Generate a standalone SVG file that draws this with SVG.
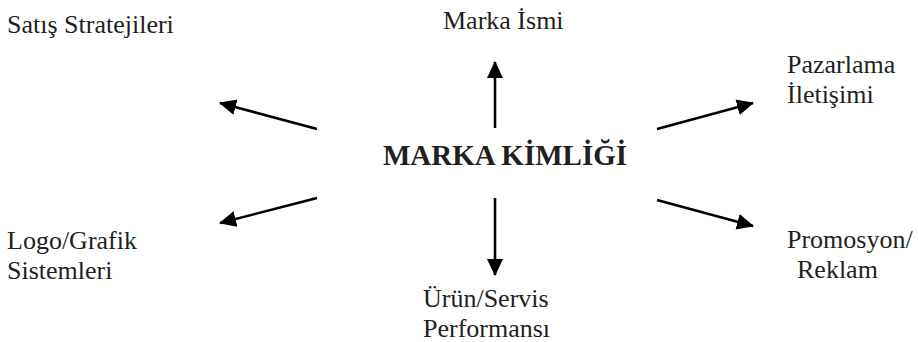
<svg xmlns="http://www.w3.org/2000/svg" width="918" height="342" viewBox="0 0 918 342">
<style>
  text { font-family: "Liberation Serif", "Times New Roman", serif; font-size: 26px; fill: #231f20; }
  .title { font-weight: bold; font-size: 29px; text-anchor: middle; }
  .conn line { stroke: #000; stroke-width: 2.6; marker-end: url(#arrow); }
</style>
<defs>
  <marker id="arrow" markerUnits="userSpaceOnUse" markerWidth="17" markerHeight="16" refX="16" refY="8" orient="auto" viewBox="0 0 17 16">
    <path d="M0,0 L17,8 L0,16 Z" fill="#000"/>
  </marker>
</defs>
<rect width="918" height="342" fill="#fff"/>
<g id="center"><text class="title" x="505" y="165">MARKA KİMLİĞİ</text></g>
<g id="marka-ismi"><text x="443" y="29">Marka İsmi</text></g>
<g id="satis"><text x="7" y="33">Satış Stratejileri</text></g>
<g id="pazarlama"><text x="787" y="73">Pazarlama</text><text x="787" y="103">İletişimi</text></g>
<g id="logo"><text x="7" y="249">Logo/Grafik</text><text x="7" y="279">Sistemleri</text></g>
<g id="promosyon"><text x="787" y="248">Promosyon/</text><text x="797" y="278">Reklam</text></g>
<g id="urun"><text x="423" y="307">Ürün/Servis</text><text x="423" y="337">Performansı</text></g>
<g id="connectors" class="conn">
  <line x1="495" y1="128" x2="495" y2="62"/>
  <line x1="495" y1="198" x2="495" y2="275"/>
  <line x1="317" y1="129" x2="220" y2="103"/>
  <line x1="317" y1="198" x2="220" y2="223"/>
  <line x1="657" y1="129" x2="753" y2="103"/>
  <line x1="657" y1="200" x2="753" y2="226"/>
</g>
</svg>
